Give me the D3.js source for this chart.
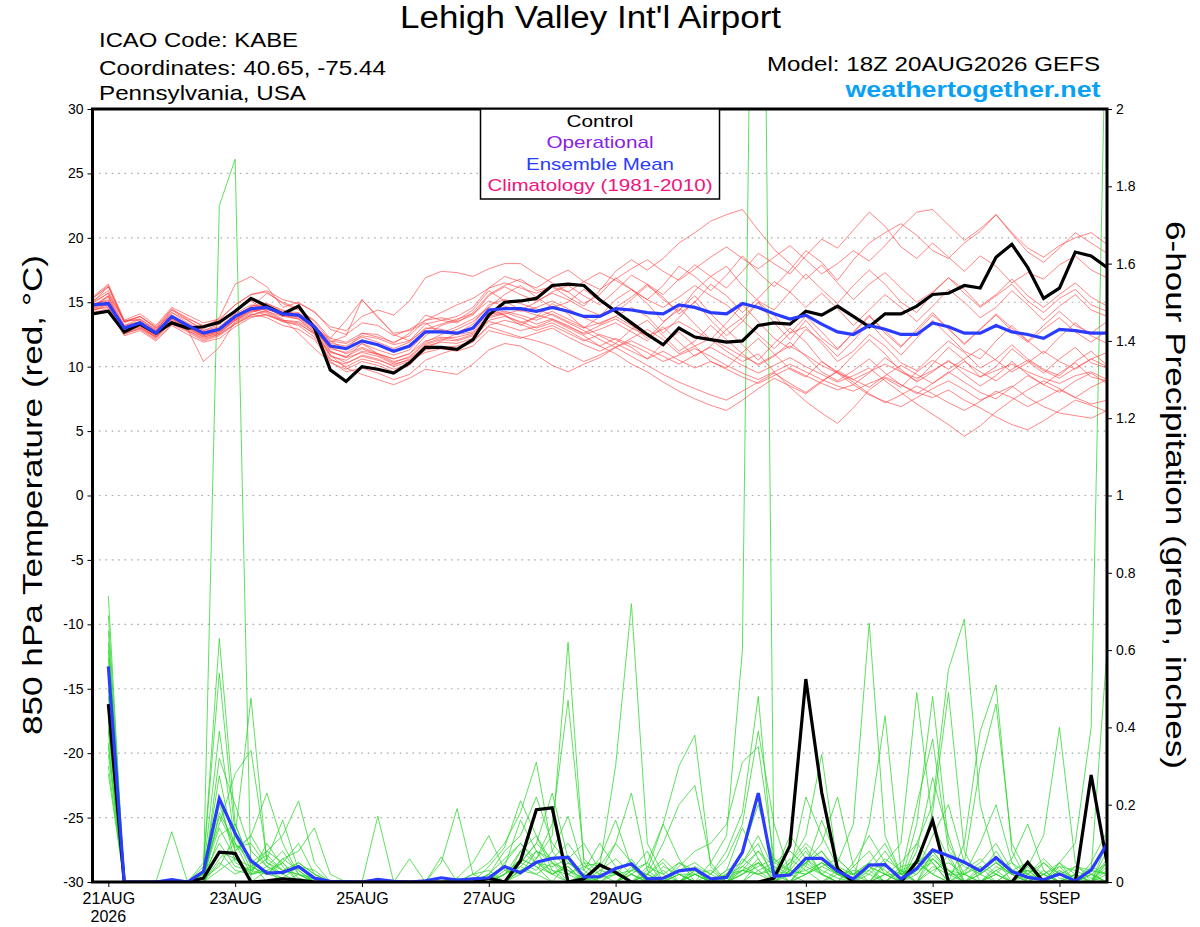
<!DOCTYPE html>
<html><head><meta charset="utf-8">
<script src="https://cdn.jsdelivr.net/npm/d3@7/dist/d3.min.js"></script>
<style>
body{margin:0;background:#fff}
svg{display:block}
text{font-family:"Liberation Sans",Arial,Helvetica,sans-serif}
</style>
</head><body>
<svg id="chart" width="1200" height="927"></svg>
<script>
// ---------------- DATA ----------------
const initTime = "2026-08-20T18:00:00Z";
const stepHours = 6;
const tickDates = ["2026-08-21","2026-08-23","2026-08-25","2026-08-27","2026-08-29","2026-09-01","2026-09-03","2026-09-05"];
const tempTicks = [-30,-25,-20,-15,-10,-5,0,5,10,15,20,25,30];
const precipTicks = [0,0.2,0.4,0.6,0.8,1,1.2,1.4,1.6,1.8,2];

// 850 hPa temperature, control run (6-hourly from init)
const tempControl = [14.1,14.3,12.7,13.3,12.6, 13.4,13.0,13.1,13.45,14.3, 15.3,14.7,14.1,14.7,13.0,
  9.75,8.85,10.0,9.8,9.5, 10.3,11.5,11.5,11.35,12.1, 14.0,15.0,15.1,15.3,16.3, 16.4,16.3,15.2,14.3,13.4,
  12.5,11.7,13.0,12.3,12.1, 11.9,12.0,13.2,13.4,13.3, 14.3,14.0,14.7,13.9,13.1, 14.1,14.1,14.7,15.6,15.7,
  16.3,16.1,18.5,19.5,17.7, 15.3,16.1,18.9,18.6,17.7];
// ensemble mean
const tempMean = [14.8,14.9,13.0,13.4,12.6, 13.9,13.2,12.6,12.9,13.9, 14.5,14.6,14.1,14.0,13.1,
  11.6,11.4,12.0,11.7,11.2, 11.6,12.7,12.7,12.6,13.0, 14.4,14.5,14.5,14.3,14.6, 14.3,13.9,13.9,14.5,14.4,
  14.2,14.1,14.8,14.6,14.2, 14.1,14.9,14.6,14.1,13.7, 14.0,13.3,12.7,12.5,13.2, 12.9,12.5,12.5,13.4,13.1,
  12.6,12.6,13.2,12.7,12.5, 12.2,12.9,12.8,12.6,12.6];
// ensemble members
const tMem01 = [15.3,16.2,13.5,13.9,13.0, 14.4,13.6,12.9,13.8,16.4, 17.0,16.2,14.6,15.0,14.2, 13.1,12.8,13.9,14.4,14.0, 15.1,16.9,17.4,17.3,17.0, 17.6,18.0,18.0,17.2,16.5, 15.8,14.9,15.6,16.9,16.0, 15.2,16.3,17.8,17.0,15.9, 17.1,18.6,17.3,16.2,17.5, 19.0,18.1,16.7,18.3,19.6, 20.4,21.1,20.2,19.0,18.4, 19.6,20.5,21.8,20.3,18.9, 18.1,19.2,20.4,19.6,18.8];
const tMem02 = [14.6,15.5,12.8,13.1,12.3, 13.7,12.9,12.3,12.6,13.6, 14.6,15.7,15.0,14.5,13.5, 12.0,11.3,12.6,12.5,11.8, 12.6,14.0,13.6,13.4,14.2, 15.6,16.3,16.8,15.9,16.2, 15.4,14.7,15.9,17.4,18.3, 17.5,18.4,19.6,20.4,21.3, 21.8,22.2,20.6,19.1,18.0, 16.8,17.9,16.5,15.2,16.4, 17.3,16.1,15.0,15.8,16.9, 15.7,14.6,15.5,16.4,15.1, 14.2,15.3,16.0,14.8,14.3];
const tMem03 = [15.0,15.7,13.5,13.7,12.8, 14.2,13.6,12.8,13.3,14.4, 15.2,14.6,13.9,14.1,13.2, 11.2,10.7,11.8,11.0,10.6, 11.0,12.4,13.2,13.6,14.4, 15.9,15.1,14.4,15.0,15.8, 16.3,15.5,14.8,15.9,17.1, 16.4,15.6,16.8,17.9,17.0, 16.1,17.4,18.8,18.0,17.2, 18.6,19.9,19.2,20.6,22.0, 20.9,19.3,18.4,19.6,18.5, 17.4,18.6,17.8,16.5,17.3, 16.8,17.9,18.6,17.5,16.9];
const tMem04 = [15.4,16.4,13.6,14.1,13.2, 14.6,14.0,13.4,13.7,14.8, 15.6,15.9,15.2,14.9,14.3, 12.9,12.5,13.4,13.2,12.4, 12.9,13.6,14.2,14.8,15.3, 16.1,17.0,16.6,16.1,16.9, 17.5,16.6,16.0,16.8,17.6, 18.3,17.4,16.7,17.6,18.5, 19.3,18.4,17.6,18.5,19.4, 18.3,17.2,18.0,19.0,18.2, 19.4,20.8,22.0,22.2,21.0, 19.8,20.7,21.8,20.4,19.2, 18.5,19.4,20.0,20.4,19.5];
const tMem05 = [14.4,14.7,12.5,13.0,12.3, 13.4,12.8,12.1,12.5,13.4, 14.0,14.3,13.9,13.7,12.8, 11.9,12.4,15.2,13.8,12.6, 12.8,13.4,12.6,13.1,13.7, 14.6,15.6,16.3,15.4,14.6, 15.0,16.0,15.1,14.2,15.2, 16.3,15.4,14.1,15.0,16.4, 15.5,14.2,15.3,16.6,15.8, 14.6,15.7,14.5,13.2,14.4, 15.6,14.6,13.5,14.7,16.0, 15.0,13.8,14.6,15.9,14.8, 13.6,14.7,15.6,14.4,13.9];
const tMem06 = [14.9,15.1,13.1,13.5,12.7, 13.8,13.0,12.4,12.8,13.7, 14.4,14.9,14.3,14.2,13.3, 11.8,11.6,12.3,11.9,11.4, 11.9,13.0,12.9,12.6,12.9, 14.2,14.0,13.2,13.9,14.9, 14.1,13.0,13.9,15.2,16.0, 14.9,13.5,14.4,15.5,14.1, 12.9,13.8,15.0,14.0,12.6, 13.9,12.7,11.4,12.6,13.9, 12.8,11.6,12.7,14.0,13.0, 11.7,12.9,14.1,13.0,12.0, 13.2,14.3,13.2,12.6,13.5];
const tMem07 = [14.5,14.8,12.9,13.2,12.4, 13.7,13.1,12.5,12.7,13.6, 14.3,14.5,14.0,13.8,12.9, 11.4,11.1,11.8,11.3,10.9, 11.3,12.6,12.8,12.5,12.7, 14.1,14.3,14.0,13.6,14.1, 13.5,13.0,13.4,13.9,13.2, 12.2,13.4,14.6,13.3,12.1, 13.4,14.8,13.5,12.2,11.4, 12.9,12.0,10.8,12.0,13.4, 12.1,10.9,12.2,13.6,12.4, 11.2,10.6,12.0,13.2,12.0, 11.0,12.3,13.4,12.4,11.8];
const tMem08 = [14.7,15.0,12.8,13.3,12.5, 13.9,13.3,12.7,13.0,14.0, 14.6,14.8,14.2,14.1,13.2, 11.5,11.0,11.5,11.0,10.6, 11.0,12.0,12.3,12.1,12.5, 13.8,14.1,14.4,14.0,13.7, 13.1,12.6,13.2,13.7,13.0, 12.4,12.9,13.5,12.8,12.1, 11.2,10.4,11.0,9.6,8.4, 7.3,6.4,5.6,6.8,8.2, 9.1,8.4,9.6,10.5,9.8, 10.6,11.4,10.5,9.6,10.3, 11.2,10.4,9.8,10.6,11.1];
const tMem09 = [14.3,14.9,13.2,13.7,12.9, 14.2,13.4,12.8,13.1,14.1, 14.8,14.6,14.0,13.7,12.6, 10.8,10.5,11.2,11.0,10.4, 10.7,11.8,12.2,12.3,12.6, 13.9,14.2,13.8,13.3,13.7, 13.2,12.5,12.9,13.4,12.7, 12.0,13.1,11.9,10.8,11.6, 12.9,11.7,10.5,11.8,13.0, 11.9,10.4,9.6,10.9,12.1, 11.0,9.6,8.9,10.2,11.5, 10.5,9.2,10.0,11.4,10.4, 9.5,10.6,11.5,10.3,9.9];
const tMem10 = [15.1,15.9,13.5,13.9,13.0, 14.0,13.2,12.6,12.9,13.8, 14.5,14.2,13.6,13.5,12.7, 10.9,10.3,10.8,10.5,10.1, 10.6,11.6,11.9,11.8,12.2, 13.5,13.2,12.8,13.1,13.6, 13.0,12.4,11.6,11.0,10.2, 9.6,8.8,8.1,7.5,7.0, 6.6,7.4,8.3,9.1,8.5, 7.9,8.8,9.7,9.0,8.4, 9.3,10.1,9.4,8.7,9.5, 10.4,9.6,8.9,9.8,10.5, 9.7,9.1,9.9,10.6,10.0];
const tMem11 = [14.6,15.4,12.6,12.9,12.1, 13.3,12.7,12.0,12.4,13.3, 13.9,14.0,13.6,13.4,12.5, 10.6,10.0,10.6,10.3,9.8, 10.2,11.3,11.5,11.6,12.0, 13.2,13.6,13.3,12.8,13.2, 12.6,12.0,12.5,12.1,11.5, 10.6,11.8,12.7,11.6,10.4, 9.9,11.1,12.2,11.0,9.8, 9.2,10.4,9.5,8.6,9.5, 10.7,9.8,8.8,9.6,10.5, 9.4,8.5,9.3,10.4,9.4, 8.6,9.5,10.3,9.2,8.9];
const tMem12 = [14.8,15.2,13.0,13.4,12.6, 13.9,13.1,12.5,12.8,13.9, 14.7,14.9,14.4,14.0,13.0, 11.2,10.7,11.1,10.8,10.2, 10.5,11.1,11.4,11.2,11.6, 12.8,12.5,12.2,12.6,13.0, 12.3,11.7,11.2,11.8,12.9, 13.6,12.4,11.2,12.0,13.2, 12.1,11.0,10.1,10.8,11.9, 10.8,9.6,8.9,9.7,10.6, 9.5,8.6,7.9,8.7,9.6, 8.8,8.0,7.5,8.4,9.3, 8.6,8.0,8.9,9.5,8.7];
const tMem13 = [15.0,16.2,13.6,13.6,12.8, 14.4,13.8,13.1,13.3,14.4, 15.1,14.3,13.7,12.6,11.4, 10.3,9.8,10.4,10.1,9.6, 10.1,11.4,12.0,12.6,13.3, 14.8,15.2,14.9,14.5,14.0, 13.4,12.8,12.1,11.5,12.0, 11.4,10.8,10.2,10.9,11.5, 10.8,10.1,9.5,10.1,10.7, 10.0,9.4,8.8,9.3,9.9, 8.9,8.0,7.1,6.3,5.5, 4.6,5.4,6.5,7.4,8.2, 8.9,8.3,7.6,8.4,9.0];
const tMem14 = [14.2,14.5,12.4,12.8,12.0, 13.2,12.5,11.9,12.2,13.1, 13.8,14.1,13.5,13.2,12.3, 10.5,10.2,10.9,10.6,10.0, 10.4,11.7,12.1,12.0,12.4, 13.6,13.9,13.5,13.0,13.4, 12.8,12.1,11.6,12.2,11.7, 11.1,10.4,10.9,11.4,10.8, 10.1,9.5,9.0,9.6,10.2, 9.6,9.0,8.5,8.1,8.7, 9.2,8.6,8.0,7.6,8.2, 7.4,6.8,6.1,5.5,5.1, 5.8,6.6,7.4,7.0,6.5];
const tMem15 = [14.9,15.7,13.2,13.5,12.7, 14.0,13.3,12.6,12.9,13.9, 14.4,14.0,13.5,13.3,12.6, 11.1,10.8,11.4,10.9,10.3, 10.8,11.9,12.5,12.9,13.5, 14.6,14.0,13.4,13.8,14.3, 13.7,13.1,12.4,11.8,11.2, 10.6,11.2,10.5,9.9,10.4, 9.8,9.2,8.7,9.3,9.9, 9.3,8.7,8.2,8.6,7.8, 7.3,6.9,7.6,8.3,8.9, 8.2,7.4,7.9,8.5,7.6, 6.9,6.4,6.2,6.0,6.6];
const tMem16 = [14.5,15.0,12.6,13.0,12.2, 13.5,12.9,10.4,11.5,13.5, 14.1,13.8,13.2,12.9,12.1, 10.4,9.6,9.9,9.5,9.0, 9.4,10.5,11.0,11.4,11.9, 13.1,12.7,12.3,12.0,11.6, 11.0,10.4,10.9,11.5,10.8, 10.1,9.4,8.8,8.3,7.8, 7.4,8.1,8.8,9.5,8.7, 8.0,8.9,9.6,8.8,7.9, 7.2,7.8,8.5,7.9,7.2, 6.6,7.3,8.1,7.6,6.9, 7.5,8.2,7.6,7.1,7.4];
const tMem17 = [14.7,15.5,13.1,13.2,12.4, 13.6,13.0,12.3,12.6,13.6, 14.2,14.6,14.1,13.9,13.0, 12.2,13.6,15.2,13.9,12.5, 12.0,12.9,13.3,13.7,14.1, 15.1,14.7,14.3,14.6,15.1, 14.5,13.8,13.3,13.9,14.6, 13.9,12.6,13.8,15.1,13.6, 12.4,13.5,15.0,13.4,12.1, 13.6,12.2,11.3,12.7,14.0, 12.6,11.5,12.9,14.2,12.9, 11.8,12.9,14.0,12.8,11.9, 12.9,13.8,12.7,11.9,12.8];
const tMem18 = [15.3,16.3,13.4,13.9,13.1, 14.5,13.7,13.2,13.6,14.8, 15.6,15.8,14.9,14.4,13.6, 12.2,11.9,12.6,12.3,11.9, 12.4,13.6,13.8,13.5,14.0, 15.5,16.2,15.6,15.1,15.7, 15.2,14.5,14.0,14.6,15.4, 16.4,15.2,14.3,15.9,17.0, 17.8,16.3,15.1,14.4,15.8, 17.2,16.0,14.9,16.3,17.5, 16.4,15.0,14.2,15.7,16.9, 16.0,14.7,15.6,16.8,15.5, 14.6,15.6,16.5,15.4,14.7];
const tMem19 = [14.4,14.6,12.7,13.1,12.3, 13.5,12.8,12.2,12.5,13.3, 14.0,14.4,14.2,14.0,13.1, 12.0,11.8,12.4,12.2,11.7, 12.0,13.3,13.6,13.9,14.6, 16.1,16.5,16.1,15.7,16.2, 15.8,16.6,17.3,16.7,16.0, 15.2,14.6,15.4,16.3,15.5, 14.8,13.6,12.5,11.4,12.6, 13.1,11.8,10.4,11.2,12.5, 11.6,10.3,9.7,10.9,12.0, 11.1,9.9,10.6,11.7,10.6, 9.8,9.3,10.4,11.2,10.1];
const tMem20 = [14.6,15.0,12.9,13.3,12.5, 13.8,13.1,12.4,12.7,13.7, 14.3,14.5,14.0,13.9,13.0, 10.9,9.9,9.4,9.0,8.6, 9.1,9.8,9.6,9.4,10.2, 11.3,11.8,11.6,10.9,10.1, 9.6,10.2,10.7,11.5,12.2, 12.9,12.1,11.0,11.6,12.2, 11.5,10.8,10.2,10.9,11.6, 10.9,10.1,9.5,9.0,9.6, 10.2,9.6,9.1,9.7,10.4, 9.8,9.2,9.7,10.2,9.6, 9.1,8.7,9.3,9.6,9.0];

// 6-hour precipitation (inches), first value valid 6 h after init
const precipControl = [0.46,0,0,0,0,0,0.01,0.077, 0.074,0,0.003,0.008,0.005,0,0,0, 0,0,0,0,0,0,0,0, 0.01,0,0.055,0.187,0.192,0,0.008,0.044,
  0.025,0,0,0,0,0,0,0, 0,0,0.01,0.094,0.525,0.232,0.034,0, 0,0,0,0.053,0.159,0,0,0, 0,0,0.051,0,0,0,0.277,0.05];
const precipMean = [0.558,0,0,0,0.006,0,0.027,0.216, 0.126,0.055,0.023,0.025,0.04,0.01,0.002,0.001, 0,0.007,0.002,0,0.003,0.011,0.005,0.008, 0.011,0.04,0.024,0.051,0.061,0.064,0.013,0.014,
  0.035,0.047,0.008,0.01,0.029,0.034,0.008,0.012, 0.077,0.23,0.015,0.018,0.061,0.061,0.028,0.008, 0.044,0.045,0.008,0.035,0.083,0.068,0.051,0.029, 0.063,0.027,0.012,0.006,0.021,0.003,0.031,0.098];
const pMem01 = [0.74,0,0,0,0,0,0.02,1.75, 1.87,0,0.03,0.01,0,0,0,0, 0,0,0,0,0,0,0.01,0, 0,0.02,0.06,0.04,0,0,0,0, 0,0.03,0.08,0,0,0.02,0,0, 0.05,0.1,0,0,0.04,0.02,0,0, 0.03,0,0,0.06,0.02,0,0.1,0.39, 0.51,0.08,0,0,0.02,0,0,0.05];
const pMem02 = [0.69,0,0,0,0,0,0.04,0.63, 0.15,0.05,0,0,0.02,0,0,0, 0,0,0,0,0,0,0,0, 0,0.04,0.16,0.08,0.02,0,0,0.01, 0.02,0,0,0,0.05,0.02,0,0.03, 0.14,0.06,0,0.02,0,0,0.03,0, 0,0.05,0,0,0.08,0.03,0,0, 0.02,0.06,0.15,0.03,0,0,0.02,0];
const pMem03 = [0.62,0,0,0,0.13,0,0,0.08, 0.06,0.02,0.1,0.04,0,0,0,0, 0,0,0,0,0,0.065,0,0, 0,0,0.03,0.05,0.02,0.04,0,0, 0,0,0.03,0.15,0.06,0,0,0.02, 0.04,0.08,0.02,0.05,0.12,0.33,0.04,0, 0,0.02,0,0.1,0.05,0,0,0.03, 0.06,0,0,0.02,0,0,0.05,0.13];
const pMem04 = [0.58,0,0,0,0,0,0.05,0.54, 0.12,0.03,0.02,0.05,0.01,0,0,0, 0,0,0,0,0,0,0,0.02, 0.03,0,0.08,0.12,0.03,0,0.02,0.06, 0.16,0.04,0,0,0.02,0,0,0, 0,0.05,0.02,0,0.06,0.03,0.01,0, 0.04,0,0,0.08,0.27,0.12,0,0, 0.03,0,0.04,0,0,0.02,0,0.02];
const pMem05 = [0.55,0,0,0,0,0,0.03,0.39, 0.1,0.06,0.02,0.01,0.04,0,0,0, 0,0,0,0,0,0,0,0, 0,0,0.05,0.1,0.23,0.06,0,0, 0,0.02,0,0.04,0.02,0,0,0.01, 0.03,0.08,0.04,0,0.02,0.05,0.02,0.01, 0.15,0.43,0.03,0,0.06,0.02,0,0.04, 0,0,0.02,0.05,0.01,0,0,0.04];
const pMem06 = [0.5,0,0,0,0,0,0.01,0.32, 0.2,0.08,0.04,0.02,0,0.01,0,0, 0,0,0,0,0,0,0,0, 0.01,0,0.02,0.06,0.12,0.62,0.05,0, 0,0,0.02,0,0,0.03,0,0, 0.06,0.03,0,0.04,0.09,0.02,0,0, 0,0.05,0,0.03,0.18,0.49,0.08,0, 0,0.03,0.02,0,0.04,0,0.02,0];
const pMem07 = [0.46,0,0,0,0,0,0.02,0.275, 0.08,0.12,0.05,0.03,0.02,0,0,0, 0,0,0,0,0,0.05,0.19,0.02, 0,0.02,0.04,0.02,0.05,0.03,0.01,0, 0,0.02,0,0,0.03,0.05,0.02,0.08, 0.18,0.48,0.02,0.06,0.03,0,0.02,0, 0,0,0.03,0.02,0.07,0.03,0,0, 0,0,0.04,0.12,0.4,0.05,0,0.06];
const pMem08 = [0.42,0,0,0,0,0,0,0.22, 0.05,0.03,0.06,0.16,0.03,0,0,0, 0,0,0,0,0,0,0,0, 0,0,0.06,0.04,0.02,0.05,0.03,0.1, 0.04,0,0.02,0.05,0,0,0,0, 0,0.03,0.05,0.08,0.04,0.16,0.06,0.02, 0,0.02,0.02,0,0.03,0.05,0.02,0, 0.02,0,0,0,0.03,0.01,0,0.08];
const pMem09 = [0.39,0,0,0,0,0,0.01,0.17, 0.09,0.1,0.04,0.02,0.05,0.02,0,0, 0,0,0,0,0,0,0.01,0.05, 0.12,0.03,0.02,0.08,0.05,0,0,0.02, 0.1,0.23,0.03,0,0.02,0,0,0, 0.02,0.06,0,0,0.05,0.02,0,0.04, 0.08,0.02,0,0.15,0.48,0.1,0.02,0, 0.03,0.05,0,0,0,0.02,0,0];
const pMem10 = [0.36,0,0,0,0,0,0,0.12, 0.15,0.04,0.02,0.06,0.03,0,0,0, 0,0,0,0,0,0,0,0, 0,0.05,0.1,0.06,0.15,0.47,0.06,0.02, 0,0.04,0,0,0,0.02,0,0.03, 0.05,0.12,0.03,0.02,0.05,0.1,0.22,0.04, 0,0,0.03,0.05,0.02,0,0.03,0.06, 0.02,0,0,0.03,0,0,0.03,0.02];
const pMem11 = [0.33,0,0,0,0,0,0,0.08, 0.03,0.02,0.03,0.05,0,0,0,0, 0,0.17,0,0,0,0,0,0, 0,0,0.03,0.02,0,0.05,0.02,0, 0,0.02,0.05,0.15,0.3,0.38,0.04,0, 0.02,0.05,0,0.03,0.02,0.04,0.02,0, 0.04,0.02,0,0.03,0.12,0.2,0.05,0.3, 0.46,0.1,0.02,0,0.05,0,0.02,0.05];
const pMem12 = [0.3,0,0,0,0,0,0,0.05, 0.02,0.04,0.07,0.03,0.02,0.01,0,0, 0,0,0,0,0,0,0,0, 0.04,0.09,0.21,0.12,0.05,0.02,0,0.03, 0.06,0.02,0,0,0.04,0.08,0.1,0.15, 0.31,0.35,0.06,0.02,0.05,0.08,0.03,0, 0,0.04,0.02,0.05,0.02,0.07,0,0.02, 0.05,0.02,0.03,0,0.02,0.04,0.02,0];
const pMem13 = [0.28,0,0,0,0,0,0.02,0.1, 0.04,0.03,0.08,0.05,0.1,0.02,0,0, 0,0,0,0,0,0,0,0.02, 0.05,0.1,0.18,0.31,0.08,0.03,0,0, 0.03,0,0.02,0.06,0.02,0,0.05,0.12, 0.6,4.0,0,0.05,0.1,0.06,0.02,0.03, 0.02,0,0.04,0.05,0.08,0.03,0,0, 0.04,0.02,0,0.05,0.02,0,0.03,0.02];
const pMem14 = [0.52,0,0,0,0,0,0,0.03, 0.06,0.02,0.03,0,0,0,0,0, 0,0,0,0.06,0,0,0,0, 0,0.03,0.05,0.1,0.06,0.02,0.05,0.04, 0.1,0.05,0,0,0.02,0.02,0,0, 0.03,0.02,0,0.03,0.08,0.02,0,0.05, 0.12,0.05,0.1,0.49,0.15,0.06,0,0.02, 0.08,0.02,0,0,0.03,0,0,0.03];
const pMem15 = [0.65,0,0,0,0,0,0,0.06, 0.1,0.02,0.04,0.08,0.02,0,0,0, 0,0,0,0,0,0,0,0, 0.02,0.08,0.12,0.22,0.1,0.05,0.02,0, 0,0.03,0.02,0,0,0.04,0.02,0.06, 0.15,0.39,0.15,0.02,0.05,0.08,0.02,0, 0.02,0.06,0.03,0,0.04,0.02,0.05,0.02, 0,0.03,0.05,0.02,0,0.02,0,0.1];
const pMem16 = [0.44,0,0,0,0,0,0.03,0.15, 0.28,0.34,0.06,0.03,0.05,0.02,0,0, 0,0,0,0,0,0,0,0, 0,0,0.04,0.08,0.06,0.1,0.04,0.02, 0.03,0,0.02,0.1,0.2,0.25,0.05,0, 0.04,0.02,0.03,0,0.02,0.05,0.03,0.02, 0.03,0.08,0.02,0.04,0.06,0.02,0.02,0.1, 0.2,0.05,0.02,0.06,0.02,0,0.04,0.02];
const pMem17 = [0.4,0,0,0,0,0,0.01,0.04, 0.12,0.476,0.05,0.02,0.04,0.03,0,0, 0,0,0,0,0,0,0,0, 0,0.02,0.05,0.03,0.08,0.17,0.03,0, 0.02,0.06,0,0.03,0,0,0.02,0, 0.03,0.05,0.02,0.12,0.06,0.02,0.05,0.15, 0.67,0.12,0.02,0.03,0.05,0,0.02,0.04, 0.02,0,0.03,0,0.05,0.02,0,0.05];
const pMem18 = [0.6,0,0,0,0,0,0,0.2, 0.08,0.12,0.23,0.1,0.02,0,0,0, 0,0,0,0,0,0,0,0, 0.02,0,0.03,0.05,0.04,0.06,0.1,0.03, 0.02,0,0.04,0.02,0.05,0.03,0,0.02, 0.08,0.2,0.05,0.03,0.02,0.04,0.06,0.02, 0.05,0.1,0.02,0.2,0.37,0.08,0.04,0.02, 0.05,0.02,0,0.02,0.04,0.03,0.01,0];
const pMem19 = [0.35,0,0,0,0,0,0,0.18, 0.1,0.05,0.08,0.12,0.21,0.05,0,0, 0,0,0,0,0,0,0,0, 0,0.02,0.08,0.05,0.03,0.02,0.04,0.05, 0.02,0.03,0.05,0,0,0.02,0.03,0, 0.02,0.04,0.06,0.03,0.22,0.12,0.04,0.02, 0.05,0.03,0,0.02,0.06,0.03,0.02,0.05, 0.1,0.03,0,0.02,0.05,0.1,0.4,2.4];
const pMem20 = [0.48,0,0,0,0,0,0.02,0.14, 0.06,0.04,0.02,0.06,0.08,0.14,0.02,0, 0,0,0,0,0,0,0,0, 0.02,0.06,0.1,0.05,0.02,0.04,0,0.04, 0.3,0.72,0.1,0.02,0,0.03,0,0.02, 0.03,0.02,0.04,0.02,0.03,0.05,0.02,0.02, 0.04,0.02,0.05,0.1,0.2,0.55,0.68,0.2, 0.05,0.02,0.03,0.02,0,0.04,0.03,0.6];

const tempMembers = [tMem01,tMem02,tMem03,tMem04,tMem05,tMem06,tMem07,tMem08,tMem09,tMem10,
                     tMem11,tMem12,tMem13,tMem14,tMem15,tMem16,tMem17,tMem18,tMem19,tMem20];
const precipMembers = [pMem01,pMem02,pMem03,pMem04,pMem05,pMem06,pMem07,pMem08,pMem09,pMem10,
                       pMem11,pMem12,pMem13,pMem14,pMem15,pMem16,pMem17,pMem18,pMem19,pMem20];

// ---------------- CHART ----------------
const W = 1200, H = 927;
const plot = {left: 92.5, right: 1107, top: 109, bottom: 882};
const svg = d3.select("#chart");

const t0 = new Date(initTime);
const stepTime = i => new Date(t0.getTime() + i * stepHours * 3600e3);
const nSteps = tempControl.length;

const x = d3.scaleUtc()
  .domain([stepTime(0), stepTime(nSteps - 1)])
  .range([plot.left, plot.right]);
const yT = d3.scaleLinear().domain([-30, 30]).range([plot.bottom, plot.top]);
const yP = d3.scaleLinear().domain([0, 2]).range([plot.bottom, plot.top]);

svg.append("rect").attr("width", W).attr("height", H).attr("fill", "#fff");

svg.append("defs").append("clipPath").attr("id", "clip")
  .append("rect").attr("x", plot.left).attr("y", plot.top)
  .attr("width", plot.right - plot.left).attr("height", plot.bottom - plot.top);

// grid lines (dotted)
svg.append("g").selectAll("line")
  .data(tempTicks.filter(d => d > -30 && d < 30))
  .join("line")
  .attr("x1", plot.left).attr("x2", plot.right)
  .attr("y1", d => yT(d)).attr("y2", d => yT(d))
  .attr("stroke", "#a8a8a8").attr("stroke-width", 1.2)
  .attr("stroke-dasharray", "1.6,4.8");

const lineT = d3.line().x((d, i) => x(stepTime(i))).y(d => yT(d));
const lineP = d3.line().x((d, i) => x(stepTime(i + 1))).y(d => yP(d));

const marks = svg.append("g").attr("clip-path", "url(#clip)");

// precipitation members (green)
marks.append("g").selectAll("path").data(precipMembers).join("path")
  .attr("d", lineP).attr("fill", "none")
  .attr("stroke", "#2ad52a").attr("stroke-width", 0.75);

// temperature members (red)
marks.append("g").selectAll("path").data(tempMembers).join("path")
  .attr("d", lineT).attr("fill", "none")
  .attr("stroke", "#ff4040").attr("stroke-width", 0.75).attr("stroke-opacity", 0.85);

// precipitation control & mean
marks.append("path").datum(precipControl).attr("d", lineP).attr("fill", "none")
  .attr("stroke", "#000").attr("stroke-width", 3.2);
marks.append("path").datum(precipMean).attr("d", lineP).attr("fill", "none")
  .attr("stroke", "#2a3cff").attr("stroke-width", 3.2);

// temperature control & mean
marks.append("path").datum(tempControl).attr("d", lineT).attr("fill", "none")
  .attr("stroke", "#000").attr("stroke-width", 3.2);
marks.append("path").datum(tempMean).attr("d", lineT).attr("fill", "none")
  .attr("stroke", "#2a3cff").attr("stroke-width", 3.2);

// axes
const axL = svg.append("g").attr("transform", `translate(${plot.left},0)`)
  .call(d3.axisLeft(yT).tickValues(tempTicks).tickSize(5).tickPadding(4).tickFormat(d => String(d)));
const axR = svg.append("g").attr("transform", `translate(${plot.right},0)`)
  .call(d3.axisRight(yP).tickValues(precipTicks).tickSize(5).tickPadding(4).tickFormat(d => String(+d.toFixed(1))));
const tickDateObjs = tickDates.map(s => new Date(s + "T00:00:00Z"));
const fmt = d3.utcFormat("%-d%b");
const axB = svg.append("g").attr("transform", `translate(0,${plot.bottom})`)
  .call(d3.axisBottom(x).tickValues(tickDateObjs).tickSize(5).tickPadding(6).tickFormat(d => fmt(d).toUpperCase()));
[axL, axR, axB].forEach(g => {
  g.select(".domain").remove();
  g.selectAll(".tick line").attr("stroke", "#000").attr("stroke-width", 1);
  g.selectAll("text").attr("fill", "#000").style("font-family", '"Liberation Sans", Arial, sans-serif');
});
axL.selectAll("text").style("font-size", "14px");
axR.selectAll("text").style("font-size", "14px");
axB.selectAll("text").style("font-size", "16px");
// year under first tick
svg.append("text").attr("x", x(tickDateObjs[0])).attr("y", 922)
  .attr("text-anchor", "middle").style("font-size", "16px").text(d3.utcFormat("%Y")(tickDateObjs[0]));

// plot frame
svg.append("rect").attr("x", plot.left).attr("y", plot.top)
  .attr("width", plot.right - plot.left).attr("height", plot.bottom - plot.top)
  .attr("fill", "none").attr("stroke", "#000").attr("stroke-width", 3);

// legend
const leg = svg.append("g");
leg.append("rect").attr("x", 480.5).attr("y", plot.top).attr("width", 239).attr("height", 90)
  .attr("fill", "#fff").attr("stroke", "#000").attr("stroke-width", 1.5);
const legendItems = [
  {t: "Control", c: "#000000", y: 126.5, w: 67},
  {t: "Operational", c: "#8a1de6", y: 148, w: 107},
  {t: "Ensemble Mean", c: "#2a3cff", y: 169.5, w: 148},
  {t: "Climatology (1981-2010)", c: "#f0147e", y: 190.5, w: 225}
];
leg.selectAll("text").data(legendItems).join("text")
  .attr("x", 600).attr("y", d => d.y).attr("text-anchor", "middle")
  .attr("fill", d => d.c).style("font-size", "17px")
  .attr("textLength", d => d.w).attr("lengthAdjust", "spacingAndGlyphs")
  .text(d => d.t);

// header texts
function hText(str, xx, yy, size, width, anchor, color, weight) {
  svg.append("text").attr("x", xx).attr("y", yy).attr("text-anchor", anchor || "start")
    .attr("fill", color || "#000").style("font-size", size + "px").style("font-weight", weight || "normal")
    .attr("textLength", width).attr("lengthAdjust", "spacingAndGlyphs").text(str);
}
hText("Lehigh Valley Int'l Airport", 400, 27.5, 31, 381);
hText("ICAO Code: KABE", 99, 47, 21, 199);
hText("Coordinates: 40.65, -75.44", 99, 74.5, 21, 287);
hText("Pennsylvania, USA", 99, 100, 21, 207);
hText("Model: 18Z 20AUG2026 GEFS", 1100, 71, 20, 333, "end");
hText("weathertogether.net", 1100.5, 96.5, 21.5, 255, "end", "#0aa0f5", "bold");

// axis titles
svg.append("text").attr("transform", "translate(42,495) rotate(-90)")
  .attr("text-anchor", "middle").style("font-size", "28px").attr("fill", "#000")
  .attr("textLength", 480).attr("lengthAdjust", "spacingAndGlyphs")
  .text("850 hPa Temperature (red, °C)");
svg.append("text").attr("transform", "translate(1166,495) rotate(90)")
  .attr("text-anchor", "middle").style("font-size", "28px").attr("fill", "#000")
  .attr("textLength", 548).attr("lengthAdjust", "spacingAndGlyphs")
  .text("6-hour Precipitation (green, inches)");
</script>
</body></html>
